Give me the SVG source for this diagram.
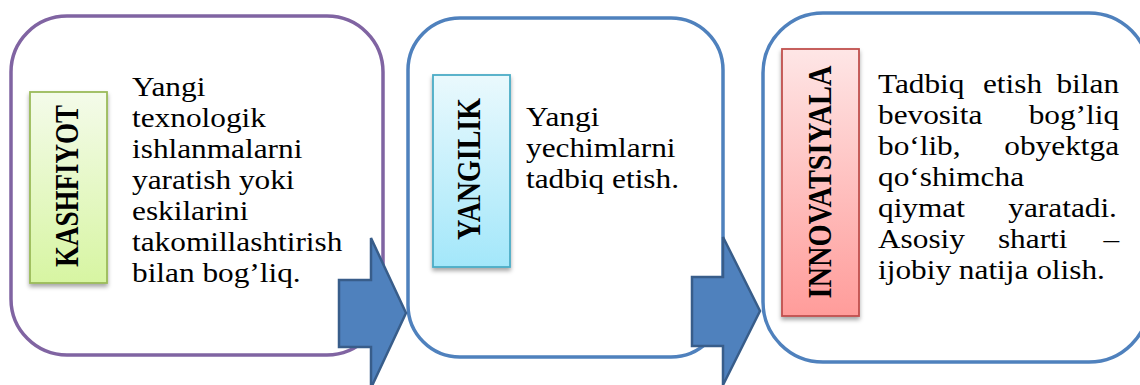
<svg xmlns="http://www.w3.org/2000/svg" width="1140" height="385" viewBox="0 0 1140 385">
<defs>
<linearGradient id="gGreen" x1="0" y1="0" x2="0" y2="1"><stop offset="0" stop-color="#F4FBEA"/><stop offset="1" stop-color="#D7F5A2"/></linearGradient>
<linearGradient id="gCyan" x1="0" y1="0" x2="0" y2="1"><stop offset="0" stop-color="#EAF9FD"/><stop offset="1" stop-color="#A3E7FA"/></linearGradient>
<linearGradient id="gRed" x1="0" y1="0" x2="0" y2="1"><stop offset="0" stop-color="#FEE6E6"/><stop offset="1" stop-color="#FF9C9A"/></linearGradient>
<filter id="sh" x="-20%" y="-10%" width="140%" height="125%"><feDropShadow dx="0" dy="3" stdDeviation="2" flood-color="#000" flood-opacity="0.35"/></filter>
</defs>
<style>
.box{fill:#fff;stroke-width:3.5}
.lab{stroke-width:1.8;filter:url(#sh)}
.ltxt{font-family:"Liberation Serif","Times New Roman",serif;font-weight:bold;font-size:27px;fill:#000;text-anchor:middle}
.body{font-family:"Liberation Serif","Times New Roman",serif;font-size:27px;fill:#000}
.arrow{fill:#4F81BD;stroke:#385D8A;stroke-width:2.5;stroke-linejoin:miter}
</style>
<rect width="1140" height="385" fill="#fff"/>
<g id="node-kashfiyot">
<rect class="box" x="11" y="16" width="372" height="339" rx="56" ry="56" stroke="#8064A2"/>
<rect class="lab" x="30" y="92" width="77" height="191" fill="url(#gGreen)" stroke="#9BBB59"/>
<text class="ltxt" transform="translate(78,186) rotate(-90) scale(1,1.28)" textLength="162" lengthAdjust="spacingAndGlyphs">KASHFIYOT</text>
<g transform="translate(132,0) scale(1.16,1)">
<text class="body" x="0" y="96">Yangi</text>
<text class="body" x="0" y="127">texnologik</text>
<text class="body" x="0" y="158">ishlanmalarni</text>
<text class="body" x="0" y="189">yaratish yoki</text>
<text class="body" x="0" y="220">eskilarini</text>
<text class="body" x="0" y="251">takomillashtirish</text>
<text class="body" x="0" y="282">bilan bog’liq.</text>
</g>
</g>
<g id="node-yangilik">
<rect class="box" x="408" y="18" width="315" height="339" rx="52" ry="52" stroke="#4F81BD"/>
<rect class="lab" x="433" y="75" width="77" height="192" fill="url(#gCyan)" stroke="#4BACC6"/>
<text class="ltxt" transform="translate(480,169) rotate(-90) scale(1,1.28)" textLength="142" lengthAdjust="spacingAndGlyphs">YANGILIK</text>
<g transform="translate(526,0) scale(1.16,1)">
<text class="body" x="0" y="126">Yangi</text>
<text class="body" x="0" y="157">yechimlarni</text>
<text class="body" x="0" y="188">tadbiq etish.</text>
</g>
</g>
<g id="node-innovatsiyala">
<rect class="box" x="763" y="13" width="386" height="349" rx="60" ry="60" stroke="#4F81BD"/>
<rect class="lab" x="782" y="49" width="77" height="267" fill="url(#gRed)" stroke="#C0504D"/>
<text class="ltxt" transform="translate(831,182) rotate(-90) scale(1,1.28)" textLength="233" lengthAdjust="spacingAndGlyphs">INNOVATSIYALA</text>
<g transform="translate(878,0) scale(1.16,1)">
<text class="body" x="0" y="93">Tadbiq</text>
<text class="body" x="90.5" y="93">etish</text>
<text class="body" x="207.8" y="93" text-anchor="end">bilan</text>
<text class="body" x="0" y="124">bevosita</text>
<text class="body" x="207.8" y="124" text-anchor="end">bog’liq</text>
<text class="body" x="0" y="155">bo‘lib,</text>
<text class="body" x="207.8" y="155" text-anchor="end">obyektga</text>
<text class="body" x="0" y="186">qo‘shimcha</text>
<text class="body" x="0" y="217">qiymat</text>
<text class="body" x="206" y="217" text-anchor="end">yaratadi.</text>
<text class="body" x="0" y="248">Asosiy</text>
<text class="body" x="103.4" y="248">sharti</text>
<text class="body" x="207.8" y="248" text-anchor="end">–</text>
<text class="body" x="0" y="279">ijobiy natija olish.</text>
</g>
</g>
<g id="connectors">
<path class="arrow" d="M339,280 L371,280 L371,238 L406,313 L371,388 L371,347 L339,347 Z"/>
<path class="arrow" d="M692,277 L723,277 L723,237 L760,311 L723,385 L723,346 L692,346 Z"/>
</g>
</svg>
